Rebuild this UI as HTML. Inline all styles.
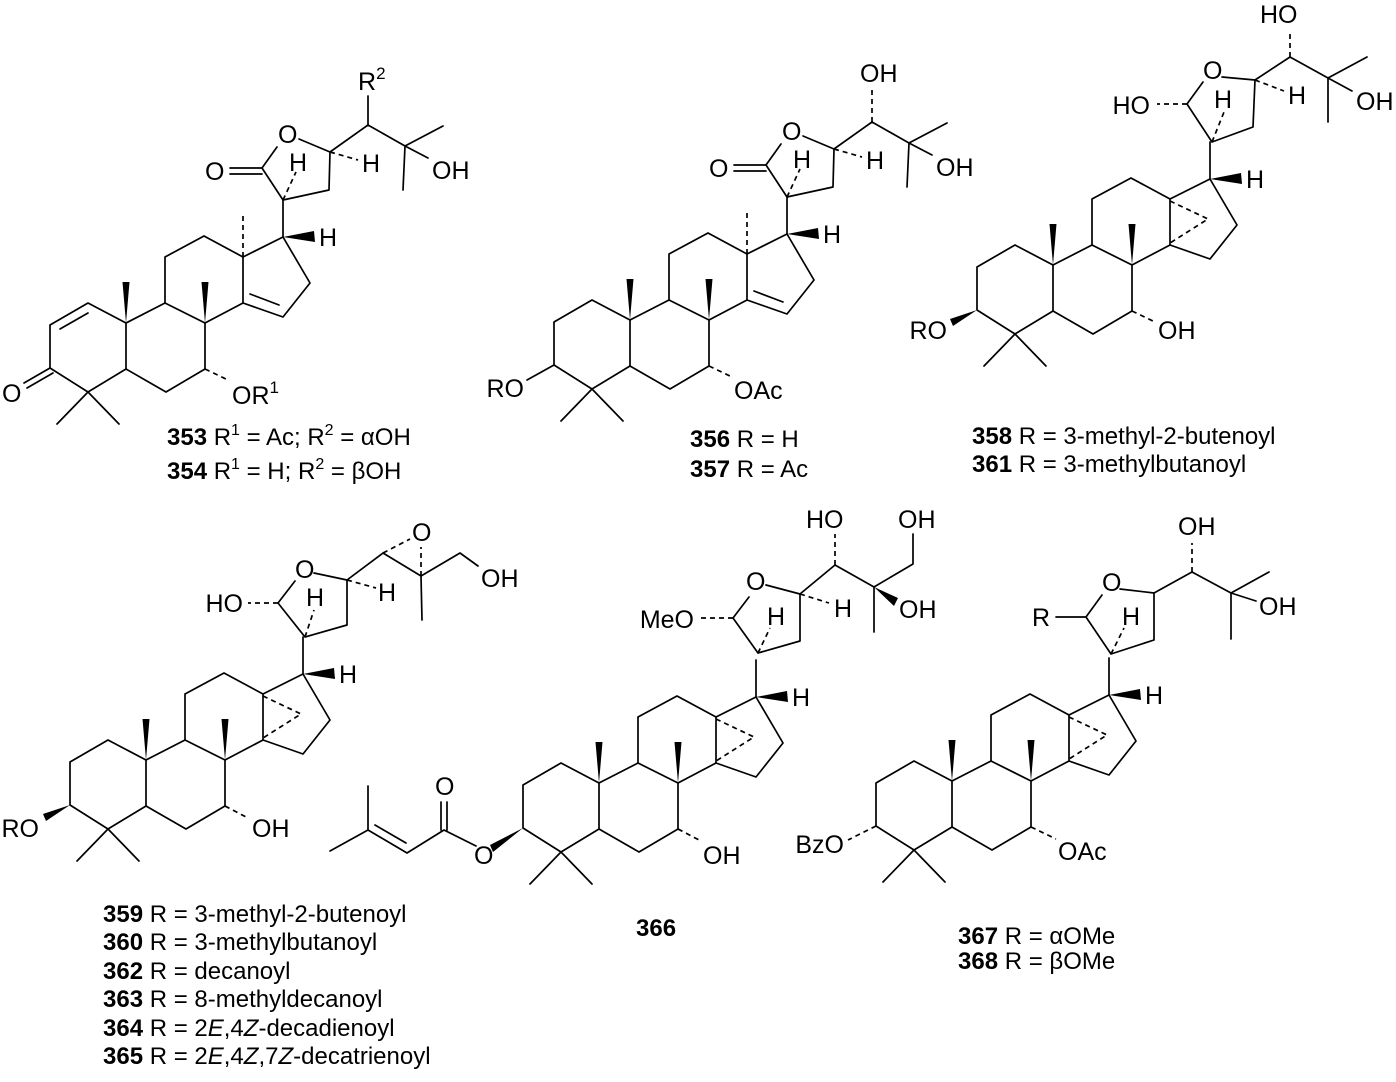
<!DOCTYPE html>
<html><head><meta charset="utf-8"><style>
html,body{margin:0;padding:0;background:#fff;}
svg{display:block;}
text{font-family:"Liberation Sans",Arial,sans-serif;fill:#000;}
.l{stroke:#000;stroke-width:1.7;fill:none;stroke-linecap:round;stroke-linejoin:round;}
.d{stroke:#000;stroke-width:1.7;fill:none;stroke-dasharray:5,4;}
.w{fill:#000;stroke:none;}
.a{font-size:25px;}
.c{font-size:24px;}
.e{text-anchor:end;}
</style></head><body>
<svg width="1396" height="1082" viewBox="0 0 1396 1082" xmlns="http://www.w3.org/2000/svg">
<defs>
<g id="core">
<path class="l" d="M88,303 L50,325 L50,368 L88,392 L126,369 L126,323 Z"/>
<path class="l" d="M126,323 L165,303 L205,323 L205,369 L166,392 L126,369"/>
<path class="l" d="M165,303 L165,257 L204,236 L243,257 L243,303 L205,323"/>
<path class="l" d="M243,257 L283,237 L310,283 L283,317 L243,303"/>
<path class="l" d="M88,392 L57,424 M88,392 L119,424 M283,237 L283,200"/>
<polygon class="w" points="126,323 122.5,282 129.5,282"/>
<polygon class="w" points="205,323 201.5,282 208.5,282"/>
<polygon class="w" points="283,237 314,231 315,242"/>
<text class="a" x="319" y="246">H</text>
</g>
<g id="cyc">
<path class="d" d="M243,259 L281,277 L243,301"/>
</g>
<g id="lac">
<path class="l" d="M283,200 L262,168 L277,147 M299,139 L330,152 L329,190 L283,200"/>
<path class="l" d="M262,168 L230,168 M262,174 L230,174"/>
<text class="a" x="205" y="180">O</text>
<text class="a" x="278" y="143">O</text>
<path class="d" d="M283,200 L296,172"/>
<text class="a" x="289" y="171">H</text>
<path class="d" d="M330,152 L358,160"/>
<text class="a" x="362" y="172">H</text>
<path class="l" d="M330,152 L368,125 L405,146 L443,126 M405,146 L403,190 M405,146 L428,158"/>
<text class="a" x="432" y="179">OH</text>
</g>
</defs>

<!-- 353 -->
<use href="#core"/>
<path class="l" d="M88,313 L60,329"/>
<path class="l" d="M250,294 L279,305"/>
<path class="d" d="M243,257 L243,214"/>
<path class="l" d="M50,368 L24,383 M53,373 L27,388"/>
<text class="a" x="2" y="402">O</text>
<path class="d" d="M205,369 L228,380"/>
<text class="a" x="232" y="404">OR<tspan font-size="17" dy="-11">1</tspan></text>
<use href="#lac"/>
<path class="l" d="M368,125 L368,96"/>
<text class="a" x="358" y="90">R<tspan font-size="17" dy="-11">2</tspan></text>
<text class="c" x="167" y="445"><tspan font-weight="bold">353</tspan> R<tspan font-size="16" dy="-10">1</tspan><tspan dy="10"> = Ac; R</tspan><tspan font-size="16" dy="-10">2</tspan><tspan dy="10"> = αOH</tspan></text>
<text class="c" x="167" y="479"><tspan font-weight="bold">354</tspan> R<tspan font-size="16" dy="-10">1</tspan><tspan dy="10"> = H; R</tspan><tspan font-size="16" dy="-10">2</tspan><tspan dy="10"> = βOH</tspan></text>

<!-- 356 -->
<g transform="translate(504,-3)">
<use href="#core"/>
<path class="l" d="M250,294 L279,305"/>
<path class="d" d="M243,257 L243,214"/>
<path class="l" d="M50,368 L23,383"/>
<text class="a e" x="20" y="400">RO</text>
<path class="d" d="M205,369 L228,380"/>
<text class="a" x="230" y="402">OAc</text>
<use href="#lac"/>
<path class="d" d="M368,125 L368,92"/>
<text class="a" x="356" y="85">OH</text>
</g>
<text class="c" x="690" y="447"><tspan font-weight="bold">356</tspan> R = H</text>
<text class="c" x="690" y="477"><tspan font-weight="bold">357</tspan> R = Ac</text>

<!-- 358 -->
<g transform="translate(927,-58)">
<use href="#core"/>
<use href="#cyc"/>
<polygon class="w" points="50,368 23,377 26,384"/>
<text class="a e" x="20" y="397">RO</text>
<path class="d" d="M205,369 L228,380"/>
<text class="a" x="231" y="397">OH</text>
</g>
<path class="l" d="M1212,142 L1187,104 L1203,82 M1222,77 L1255,80 L1253,127 L1212,142"/>
<text class="a" x="1203" y="79">O</text>
<path class="d" d="M1187,104 L1157,104"/>
<text class="a e" x="1150" y="114">HO</text>
<path class="d" d="M1212,142 L1224,112"/>
<text class="a" x="1214" y="108">H</text>
<path class="d" d="M1255,80 L1284,91"/>
<text class="a" x="1288" y="104">H</text>
<path class="l" d="M1255,80 L1290,57 L1328,78 L1367,57 M1328,78 L1328,122 M1328,78 L1352,91"/>
<path class="d" d="M1290,57 L1290,30"/>
<text class="a" x="1260" y="23">HO</text>
<text class="a" x="1356" y="110">OH</text>
<text class="c" x="972" y="444"><tspan font-weight="bold">358</tspan> R = 3-methyl-2-butenoyl</text>
<text class="c" x="972" y="472"><tspan font-weight="bold">361</tspan> R = 3-methylbutanoyl</text>

<!-- 359 -->
<g transform="translate(20,437)">
<use href="#core"/>
<use href="#cyc"/>
<polygon class="w" points="50,368 23,377 26,384"/>
<text class="a e" x="19" y="400">RO</text>
<path class="d" d="M205,369 L228,381"/>
<text class="a" x="232" y="400">OH</text>
</g>
<path class="l" d="M305,637 L278,603 L295,581 M314,573 L347,580 L347,625 L305,637"/>
<text class="a" x="295" y="578">O</text>
<path class="d" d="M278,603 L248,603"/>
<text class="a e" x="243" y="612">HO</text>
<path class="d" d="M305,637 L314,610"/>
<text class="a" x="306" y="606">H</text>
<path class="d" d="M347,580 L376,588"/>
<text class="a" x="378" y="601">H</text>
<path class="l" d="M347,580 L383,553 L421,576 L460,553 L478,566 M421,576 L422,620"/>
<path class="d" d="M383,553 L410,539 M421,576 L421,547"/>
<text class="a" x="412" y="541">O</text>
<text class="a" x="481" y="587">OH</text>
<text class="c" x="103" y="922"><tspan font-weight="bold">359</tspan> R = 3-methyl-2-butenoyl</text>
<text class="c" x="103" y="950"><tspan font-weight="bold">360</tspan> R = 3-methylbutanoyl</text>
<text class="c" x="103" y="979"><tspan font-weight="bold">362</tspan> R = decanoyl</text>
<text class="c" x="103" y="1007"><tspan font-weight="bold">363</tspan> R = 8-methyldecanoyl</text>
<text class="c" x="103" y="1036"><tspan font-weight="bold">364</tspan> R = 2<tspan font-style="italic">E</tspan>,4<tspan font-style="italic">Z</tspan>-decadienoyl</text>
<text class="c" x="103" y="1064"><tspan font-weight="bold">365</tspan> R = 2<tspan font-style="italic">E</tspan>,4<tspan font-style="italic">Z</tspan>,7<tspan font-style="italic">Z</tspan>-decatrienoyl</text>

<!-- 366 -->
<g transform="translate(473,460)">
<use href="#core"/>
<use href="#cyc"/>
<polygon class="w" points="50,368 17,385 20,392"/>
<path class="d" d="M205,369 L228,381"/>
<text class="a" x="230" y="404">OH</text>
</g>
<text class="a" x="474" y="864">O</text>
<path class="l" d="M476,846 L444,830 L407,853 L368,830 L330,851 M368,830 L368,786 M441,830 L441,802 M447,830 L447,802"/>
<path class="l" d="M406,843 L375,825"/>
<text class="a" x="435" y="795">O</text>
<path class="l" d="M758,653 L733,618 L749,597 M766,585 L800,594 L800,641 L758,653"/>
<text class="a" x="746" y="590">O</text>
<path class="d" d="M733,618 L699,618"/>
<text class="a e" x="694" y="628">MeO</text>
<path class="d" d="M758,653 L770,628"/>
<text class="a" x="767" y="625">H</text>
<path class="d" d="M800,594 L829,603"/>
<text class="a" x="834" y="617">H</text>
<path class="l" d="M800,594 L835,565 L874,587 L913,564 L913,534 M874,587 L874,632"/>
<polygon class="w" points="874,587 898,598 894,606"/>
<path class="d" d="M835,565 L835,534"/>
<text class="a" x="806" y="528">HO</text>
<text class="a" x="898" y="528">OH</text>
<text class="a" x="899" y="618">OH</text>
<text class="c" x="636" y="936" font-weight="bold">366</text>

<!-- 367 -->
<g transform="translate(826,458)">
<use href="#core"/>
<use href="#cyc"/>
<path class="d" d="M50,368 L22,382"/>
<text class="a e" x="18" y="395">BzO</text>
<path class="d" d="M205,369 L230,381"/>
<text class="a" x="232" y="402">OAc</text>
</g>
<path class="l" d="M1111,654 L1086,617 L1102,595 M1120,589 L1154,593 L1154,640 L1111,654"/>
<text class="a" x="1102" y="591">O</text>
<path class="l" d="M1086,617 L1056,617"/>
<text class="a e" x="1050" y="626">R</text>
<path class="d" d="M1111,654 L1124,628"/>
<text class="a" x="1122" y="625">H</text>
<path class="l" d="M1154,593 L1192,572 L1231,593 L1269,572 M1231,593 L1231,639 M1231,593 L1256,601"/>
<path class="d" d="M1192,572 L1192,543"/>
<text class="a" x="1178" y="535">OH</text>
<text class="a" x="1259" y="615">OH</text>
<text class="c" x="958" y="944"><tspan font-weight="bold">367</tspan> R = αOMe</text>
<text class="c" x="958" y="969"><tspan font-weight="bold">368</tspan> R = βOMe</text>
</svg>
</body></html>
